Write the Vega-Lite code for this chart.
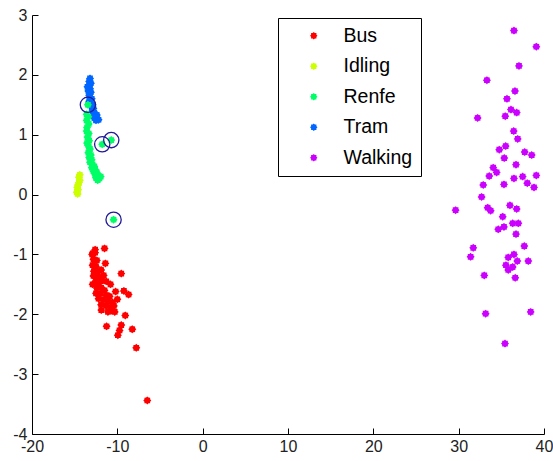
{
  "$schema": "https://vega.github.io/schema/vega-lite/v6.json",
  "width": 512,
  "height": 419,
  "autosize": {"type": "none"},
  "padding": {"left": 32, "top": 15, "right": 9, "bottom": 27},
  "background": "white",
  "config": {"view": {"stroke": null}, "font": "Liberation Sans"},
  "datasets": {
    "pts": [
      {"x":-13.2,"y":1.94,"c":"Tram"},{"x":-13.3,"y":1.89,"c":"Tram"},{"x":-13.1,"y":1.86,"c":"Tram"},{"x":-13.3,"y":1.82,"c":"Tram"},{"x":-13.2,"y":1.77,"c":"Tram"},{"x":-13.4,"y":1.73,"c":"Tram"},{"x":-13.1,"y":1.71,"c":"Tram"},{"x":-13.3,"y":1.66,"c":"Tram"},{"x":-13.2,"y":1.62,"c":"Tram"},{"x":-13.0,"y":1.6,"c":"Tram"},{"x":-13.3,"y":1.56,"c":"Tram"},{"x":-13.1,"y":1.52,"c":"Tram"},{"x":-12.9,"y":1.5,"c":"Tram"},{"x":-13.0,"y":1.46,"c":"Tram"},{"x":-12.8,"y":1.44,"c":"Tram"},{"x":-12.9,"y":1.4,"c":"Tram"},{"x":-12.7,"y":1.37,"c":"Tram"},{"x":-12.8,"y":1.34,"c":"Tram"},{"x":-12.6,"y":1.31,"c":"Tram"},{"x":-12.7,"y":1.28,"c":"Tram"},{"x":-12.4,"y":1.27,"c":"Tram"},{"x":-12.5,"y":1.24,"c":"Tram"},{"x":-12.2,"y":1.25,"c":"Tram"},{"x":-12.4,"y":1.33,"c":"Tram"},{"x":-13.5,"y":1.8,"c":"Tram"},
      {"x":-13.45,"y":1.5,"c":"Renfe"},{"x":-13.6,"y":1.34,"c":"Renfe"},{"x":-13.4,"y":1.3,"c":"Renfe"},{"x":-13.6,"y":1.24,"c":"Renfe"},{"x":-13.35,"y":1.18,"c":"Renfe"},{"x":-13.55,"y":1.12,"c":"Renfe"},{"x":-13.6,"y":1.06,"c":"Renfe"},{"x":-13.35,"y":1.02,"c":"Renfe"},{"x":-13.5,"y":0.96,"c":"Renfe"},{"x":-13.3,"y":0.9,"c":"Renfe"},{"x":-13.55,"y":0.86,"c":"Renfe"},{"x":-13.35,"y":0.8,"c":"Renfe"},{"x":-13.2,"y":0.76,"c":"Renfe"},{"x":-13.4,"y":0.7,"c":"Renfe"},{"x":-13.1,"y":0.66,"c":"Renfe"},{"x":-13.3,"y":0.62,"c":"Renfe"},{"x":-13.0,"y":0.58,"c":"Renfe"},{"x":-13.2,"y":0.54,"c":"Renfe"},{"x":-12.9,"y":0.5,"c":"Renfe"},{"x":-12.7,"y":0.47,"c":"Renfe"},{"x":-13.0,"y":0.45,"c":"Renfe"},{"x":-12.6,"y":0.42,"c":"Renfe"},{"x":-12.8,"y":0.39,"c":"Renfe"},{"x":-12.4,"y":0.37,"c":"Renfe"},{"x":-12.6,"y":0.33,"c":"Renfe"},{"x":-12.2,"y":0.31,"c":"Renfe"},{"x":-12.5,"y":0.28,"c":"Renfe"},{"x":-12.1,"y":0.27,"c":"Renfe"},{"x":-12.3,"y":0.24,"c":"Renfe"},{"x":-11.95,"y":0.3,"c":"Renfe"},{"x":-11.77,"y":0.84,"c":"Renfe"},{"x":-10.71,"y":0.91,"c":"Renfe"},{"x":-10.44,"y":-0.42,"c":"Renfe"},
      {"x":-14.4,"y":0.33,"c":"Idling"},{"x":-14.5,"y":0.29,"c":"Idling"},{"x":-14.4,"y":0.24,"c":"Idling"},{"x":-14.5,"y":0.2,"c":"Idling"},{"x":-14.6,"y":0.16,"c":"Idling"},{"x":-14.7,"y":0.12,"c":"Idling"},{"x":-14.6,"y":0.08,"c":"Idling"},{"x":-14.75,"y":0.04,"c":"Idling"},{"x":-14.65,"y":0.01,"c":"Idling"},
      {"x":-12.95,"y":-1.0,"c":"Bus"},{"x":-12.6,"y":-0.97,"c":"Bus"},{"x":-12.8,"y":-1.08,"c":"Bus"},{"x":-12.4,"y":-1.1,"c":"Bus"},{"x":-12.9,"y":-1.18,"c":"Bus"},{"x":-12.5,"y":-1.2,"c":"Bus"},{"x":-12.75,"y":-1.28,"c":"Bus"},{"x":-12.3,"y":-1.3,"c":"Bus"},{"x":-12.8,"y":-1.36,"c":"Bus"},{"x":-12.5,"y":-1.4,"c":"Bus"},{"x":-12.1,"y":-1.38,"c":"Bus"},{"x":-12.6,"y":-1.48,"c":"Bus"},{"x":-12.2,"y":-1.48,"c":"Bus"},{"x":-11.8,"y":-1.44,"c":"Bus"},{"x":-12.4,"y":-1.56,"c":"Bus"},{"x":-11.9,"y":-1.56,"c":"Bus"},{"x":-11.5,"y":-1.6,"c":"Bus"},{"x":-12.5,"y":-1.65,"c":"Bus"},{"x":-12.0,"y":-1.66,"c":"Bus"},{"x":-11.3,"y":-1.68,"c":"Bus"},{"x":-10.9,"y":-1.7,"c":"Bus"},{"x":-12.2,"y":-1.74,"c":"Bus"},{"x":-11.6,"y":-1.76,"c":"Bus"},{"x":-11.1,"y":-1.78,"c":"Bus"},{"x":-10.6,"y":-1.8,"c":"Bus"},{"x":-11.9,"y":-1.84,"c":"Bus"},{"x":-11.3,"y":-1.86,"c":"Bus"},{"x":-10.8,"y":-1.88,"c":"Bus"},{"x":-10.4,"y":-1.86,"c":"Bus"},{"x":-10.3,"y":-1.96,"c":"Bus"},{"x":-11.1,"y":-1.96,"c":"Bus"},{"x":-12.6,"y":-0.92,"c":"Bus"},{"x":-11.9,"y":-1.26,"c":"Bus"},{"x":-10.8,"y":-1.5,"c":"Bus"},{"x":-11.3,"y":-1.45,"c":"Bus"},{"x":-10.2,"y":-1.62,"c":"Bus"},{"x":-11.6,"y":-1.35,"c":"Bus"},{"x":-12.9,"y":-1.5,"c":"Bus"},{"x":-10.0,"y":-1.75,"c":"Bus"},{"x":-11.4,"y":-1.15,"c":"Bus"},
      {"x":-12.87,"y":-0.98,"c":"Bus"},{"x":-11.5,"y":-0.9,"c":"Bus"},{"x":-9.54,"y":-1.32,"c":"Bus"},{"x":-9.23,"y":-1.61,"c":"Bus"},{"x":-8.68,"y":-1.67,"c":"Bus"},{"x":-11.88,"y":-1.93,"c":"Bus"},{"x":-10.71,"y":-1.94,"c":"Bus"},{"x":-9.07,"y":-2.02,"c":"Bus"},{"x":-11.26,"y":-2.2,"c":"Bus"},{"x":-9.54,"y":-2.18,"c":"Bus"},{"x":-9.74,"y":-2.27,"c":"Bus"},{"x":-9.94,"y":-2.35,"c":"Bus"},{"x":-8.25,"y":-2.25,"c":"Bus"},{"x":-7.78,"y":-2.56,"c":"Bus"},{"x":-6.49,"y":-3.44,"c":"Bus"},
      {"x":36.48,"y":2.74,"c":"Walking"},{"x":39.1,"y":2.47,"c":"Walking"},{"x":37.07,"y":2.15,"c":"Walking"},{"x":33.31,"y":1.91,"c":"Walking"},{"x":36.6,"y":1.73,"c":"Walking"},{"x":35.66,"y":1.6,"c":"Walking"},{"x":36.13,"y":1.42,"c":"Walking"},{"x":36.8,"y":1.37,"c":"Walking"},{"x":35.46,"y":1.31,"c":"Walking"},{"x":32.22,"y":1.28,"c":"Walking"},{"x":36.45,"y":1.06,"c":"Walking"},{"x":36.92,"y":0.93,"c":"Walking"},{"x":34.76,"y":0.75,"c":"Walking"},{"x":35.51,"y":0.81,"c":"Walking"},{"x":35.34,"y":0.61,"c":"Walking"},{"x":37.74,"y":0.71,"c":"Walking"},{"x":38.56,"y":0.66,"c":"Walking"},{"x":36.72,"y":0.5,"c":"Walking"},{"x":34.05,"y":0.45,"c":"Walking"},{"x":34.45,"y":0.37,"c":"Walking"},{"x":33.58,"y":0.31,"c":"Walking"},{"x":36.48,"y":0.27,"c":"Walking"},{"x":37.5,"y":0.3,"c":"Walking"},{"x":39.1,"y":0.32,"c":"Walking"},{"x":32.88,"y":0.16,"c":"Walking"},{"x":35.31,"y":0.17,"c":"Walking"},{"x":38.04,"y":0.19,"c":"Walking"},{"x":38.83,"y":0.12,"c":"Walking"},{"x":32.69,"y":-0.04,"c":"Walking"},{"x":29.64,"y":-0.26,"c":"Walking"},{"x":33.4,"y":-0.22,"c":"Walking"},{"x":33.75,"y":-0.27,"c":"Walking"},{"x":36.01,"y":-0.18,"c":"Walking"},{"x":36.8,"y":-0.24,"c":"Walking"},{"x":35.16,"y":-0.37,"c":"Walking"},{"x":36.33,"y":-0.48,"c":"Walking"},{"x":36.99,"y":-0.48,"c":"Walking"},{"x":35.31,"y":-0.54,"c":"Walking"},{"x":34.64,"y":-0.58,"c":"Walking"},{"x":36.72,"y":-0.66,"c":"Walking"},{"x":31.71,"y":-0.89,"c":"Walking"},{"x":37.69,"y":-0.86,"c":"Walking"},{"x":31.4,"y":-1.04,"c":"Walking"},{"x":35.81,"y":-1.05,"c":"Walking"},{"x":36.48,"y":-1.0,"c":"Walking"},{"x":36.87,"y":-1.11,"c":"Walking"},{"x":35.54,"y":-1.18,"c":"Walking"},{"x":36.33,"y":-1.21,"c":"Walking"},{"x":35.81,"y":-1.26,"c":"Walking"},{"x":38.16,"y":-1.11,"c":"Walking"},{"x":33.0,"y":-1.35,"c":"Walking"},{"x":36.63,"y":-1.39,"c":"Walking"},{"x":33.16,"y":-1.99,"c":"Walking"},{"x":38.44,"y":-1.96,"c":"Walking"},{"x":35.43,"y":-2.49,"c":"Walking"}
    ],
    "hl": [
      {"x":-13.45,"y":1.5},{"x":-11.77,"y":0.84},{"x":-10.71,"y":0.91},{"x":-10.44,"y":-0.42}
    ]
  },
  "layer": [
    {
      "data": {"name": "pts"},
      "mark": {"type": "point", "shape": "M1,0L0.72,0.3L0.707,0.707L0.3,0.72L0,1L-0.3,0.72L-0.707,0.707L-0.72,0.3L-1,0L-0.72,-0.3L-0.707,-0.707L-0.3,-0.72L0,-1L0.3,-0.72L0.707,-0.707L0.72,-0.3Z", "filled": true, "size": 64, "opacity": 1},
      "encoding": {
        "x": {"field": "x", "type": "quantitative", "scale": {"domain": [-20, 40], "nice": false, "zero": false},
              "axis": {"title": null, "values": [-20,-10,0,10,20,30,40], "labelExpr": "datum.value < 0 ? '-' + abs(datum.value) : '' + datum.value", "grid": false, "tickSize": -6, "labelPadding": 10, "labelFontSize": 16, "labelColor": "#222222", "domainColor": "black", "tickColor": "black", "labelFlush": false, "labelFont": "Liberation Sans"}},
        "y": {"field": "y", "type": "quantitative", "scale": {"domain": [-4, 3], "nice": false, "zero": false},
              "axis": {"title": null, "values": [-4,-3,-2,-1,0,1,2,3], "labelExpr": "datum.value < 0 ? '-' + abs(datum.value) : '' + datum.value", "grid": false, "tickSize": -6, "labelPadding": 11, "labelFontSize": 16, "labelColor": "#222222", "domainColor": "black", "tickColor": "black", "labelFlush": false, "labelFont": "Liberation Sans"}},
        "color": {"field": "c", "type": "nominal",
                  "scale": {"domain": ["Bus","Idling","Renfe","Tram","Walking"], "range": ["#ff0000","#ccff00","#00ff66","#0066ff","#cc00ff"]},
                  "legend": {"orient": "none", "legendX": 246, "legendY": 3, "title": null, "strokeColor": "black", "fillColor": "white", "padding": 8, "rowPadding": 9.5, "labelFontSize": 19.5, "labelFont": "Liberation Sans", "labelColor": "black", "labelOffset": 20, "symbolOffset": 18, "symbolSize": 56, "symbolType": "M1,0L0.72,0.3L0.707,0.707L0.3,0.72L0,1L-0.3,0.72L-0.707,0.707L-0.72,0.3L-1,0L-0.72,-0.3L-0.707,-0.707L-0.3,-0.72L0,-1L0.3,-0.72L0.707,-0.707L0.72,-0.3Z", "symbolStrokeWidth": 0}}
      }
    },
    {
      "data": {"name": "hl"},
      "mark": {"type": "point", "shape": "circle", "filled": false, "size": 233, "stroke": "#201a96", "strokeWidth": 1.3, "opacity": 1},
      "encoding": {
        "x": {"field": "x", "type": "quantitative"},
        "y": {"field": "y", "type": "quantitative"}
      }
    }
  ]
}
